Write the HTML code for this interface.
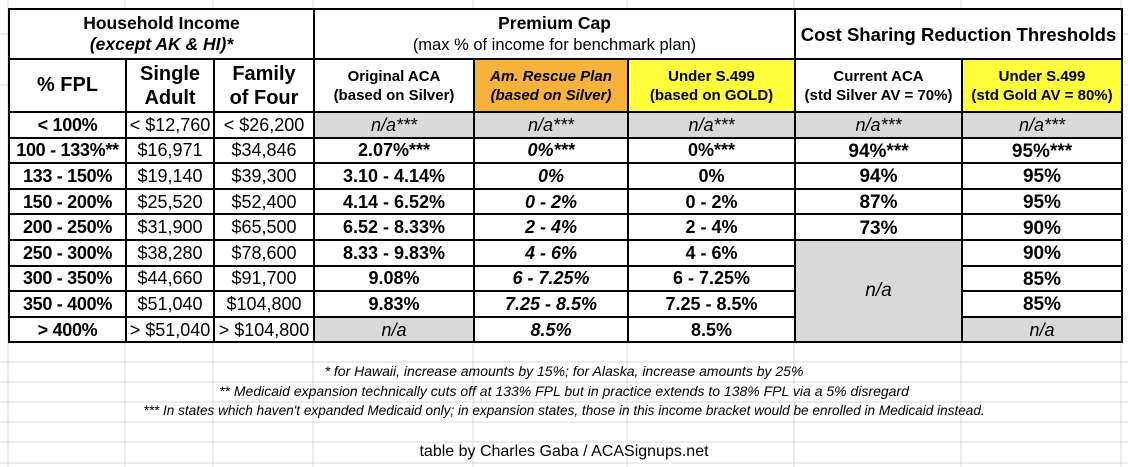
<!DOCTYPE html>
<html><head><meta charset="utf-8"><style>
body{margin:0;width:1128px;height:467px;background:#fff;position:relative;overflow:hidden;font-family:"Liberation Sans",Arial,sans-serif;}
.grid{position:absolute;left:0;top:0;width:1128px;height:467px;}
table{position:absolute;left:8px;top:8px;border-collapse:collapse;table-layout:fixed;background:#fff;}
td{border:2px solid #000;text-align:center;padding:0;font-size:18px;line-height:19px;color:#000;white-space:nowrap;overflow:hidden;vertical-align:middle;}
tr.d td{height:23.6px;line-height:22px;padding:0;}
tr.d td.big{padding-top:3px;height:20.6px;line-height:20px;}
.b{font-weight:bold}.i{font-style:italic}.bi{font-weight:bold;font-style:italic}
.f{font-weight:bold;font-size:18px;letter-spacing:-0.3px}
.g{background:#d9d9d9}.y{background:#ffff3c}.o{background:#f7b23b}
.h{font-size:15px;font-weight:bold;line-height:19px}
.big{font-size:19px;font-weight:bold}
.n{font-size:18px;}
.fn{position:absolute;left:0;width:1128px;text-align:center;font-style:italic;font-size:14px;}
</style></head><body>
<svg class="grid" width="1128" height="467">
<g stroke="#d8d8d8" stroke-width="1">
<line x1="8" y1="0" x2="8" y2="467"/><line x1="125" y1="0" x2="125" y2="467"/><line x1="213" y1="0" x2="213" y2="467"/><line x1="313" y1="0" x2="313" y2="467"/><line x1="473" y1="0" x2="473" y2="467"/><line x1="627" y1="0" x2="627" y2="467"/><line x1="794" y1="0" x2="794" y2="467"/><line x1="961" y1="0" x2="961" y2="467"/><line x1="1121" y1="0" x2="1121" y2="467"/>
<line x1="0" y1="362" x2="1128" y2="362"/><line x1="0" y1="382" x2="1128" y2="382"/><line x1="0" y1="402" x2="1128" y2="402"/><line x1="0" y1="422" x2="1128" y2="422"/><line x1="0" y1="442" x2="1128" y2="442"/><line x1="0" y1="463" x2="1128" y2="463"/>
<line x1="0" y1="34" x2="8" y2="34"/><line x1="0" y1="85" x2="8" y2="85"/><line x1="1121" y1="34" x2="1128" y2="34"/><line x1="1121" y1="85" x2="1128" y2="85"/>
</g></svg>
<table>
<colgroup><col style="width:117px"><col style="width:88px"><col style="width:100px"><col style="width:160px"><col style="width:154px"><col style="width:167px"><col style="width:167px"><col style="width:160px"></colgroup>
<tr style="height:50px"><td colspan="3" class="b" style="font-size:17.5px;line-height:21px">Household Income<br><i>(except AK &amp; HI)*</i></td>
<td colspan="3" style="font-size:17.5px;line-height:21px"><b>Premium Cap</b><br><span style="font-size:16.5px">(max % of income for benchmark plan)</span></td>
<td colspan="2" class="b" style="font-size:18.5px">Cost Sharing Reduction Thresholds</td></tr>
<tr style="height:53px"><td class="b" style="font-size:20px">% FPL</td><td class="b" style="font-size:20px;line-height:24px">Single<br>Adult</td><td class="b" style="font-size:20px;line-height:24px">Family<br>of Four</td>
<td class="h">Original ACA<br>(based on Silver)</td><td class="h o"><i>Am. Rescue Plan<br>(based on Silver)</i></td><td class="h y">Under S.499<br>(based on GOLD)</td><td class="h">Current ACA<br>(std Silver AV = 70%)</td><td class="h y">Under S.499<br>(std Gold AV = 80%)</td></tr>
<tr class="d"><td class="f">&lt; 100%</td><td class="n">&lt; $12,760</td><td class="n">&lt; $26,200</td><td class="g i">n/a***</td><td class="g i">n/a***</td><td class="g i">n/a***</td><td class="g i">n/a***</td><td class="g i">n/a***</td></tr>
<tr class="d"><td class="f">100 - 133%**</td><td class="n">$16,971</td><td class="n">$34,846</td><td class="b">2.07%***</td><td class="bi">0%***</td><td class="b">0%***</td><td class="big">94%***</td><td class="big">95%***</td></tr>
<tr class="d"><td class="f">133 - 150%</td><td class="n">$19,140</td><td class="n">$39,300</td><td class="b">3.10 - 4.14%</td><td class="bi">0%</td><td class="b">0%</td><td class="big">94%</td><td class="big">95%</td></tr>
<tr class="d"><td class="f">150 - 200%</td><td class="n">$25,520</td><td class="n">$52,400</td><td class="b">4.14 - 6.52%</td><td class="bi">0 - 2%</td><td class="b">0 - 2%</td><td class="big">87%</td><td class="big">95%</td></tr>
<tr class="d"><td class="f">200 - 250%</td><td class="n">$31,900</td><td class="n">$65,500</td><td class="b">6.52 - 8.33%</td><td class="bi">2 - 4%</td><td class="b">2 - 4%</td><td class="big">73%</td><td class="big">90%</td></tr>
<tr class="d"><td class="f">250 - 300%</td><td class="n">$38,280</td><td class="n">$78,600</td><td class="b">8.33 - 9.83%</td><td class="bi">4 - 6%</td><td class="b">4 - 6%</td><td rowspan="4" class="g i" style="font-size:19px">n/a</td><td class="big">90%</td></tr>
<tr class="d"><td class="f">300 - 350%</td><td class="n">$44,660</td><td class="n">$91,700</td><td class="b">9.08%</td><td class="bi">6 - 7.25%</td><td class="b">6 - 7.25%</td><td class="big">85%</td></tr>
<tr class="d"><td class="f">350 - 400%</td><td class="n">$51,040</td><td class="n">$104,800</td><td class="b">9.83%</td><td class="bi">7.25 - 8.5%</td><td class="b">7.25 - 8.5%</td><td class="big">85%</td></tr>
<tr class="d"><td class="f">&gt; 400%</td><td class="n">&gt; $51,040</td><td class="n">&gt; $104,800</td><td class="g i">n/a</td><td class="bi">8.5%</td><td class="b">8.5%</td><td class="g i">n/a</td></tr>
</table>
<div class="fn" style="top:363px">* for Hawaii, increase amounts by 15%; for Alaska, increase amounts by 25%</div>
<div class="fn" style="top:383px">** Medicaid expansion technically cuts off at 133% FPL but in practice extends to 138% FPL via a 5% disregard</div>
<div class="fn" style="top:403px;font-size:13.6px">*** In states which haven't expanded Medicaid only; in expansion states, those in this income bracket would be enrolled in Medicaid instead.</div>
<div class="fn" style="top:443px;font-style:normal;font-size:16px">table by Charles Gaba / ACASignups.net</div>
</body></html>
